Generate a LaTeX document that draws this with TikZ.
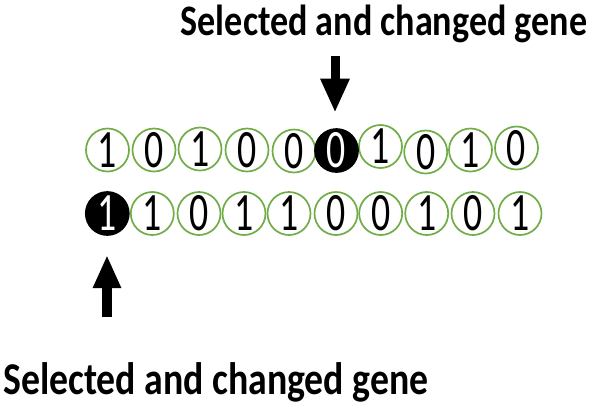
\documentclass[tikz,border=0pt]{standalone}
\usepackage{fontspec}
\setmainfont{Carlito}
\usetikzlibrary{arrows.meta}
\definecolor{genegreen}{RGB}{112,173,71}
\newcommand{\dg}[1]{\scalebox{0.7}[1]{#1}}
\begin{document}
\begin{tikzpicture}[x=1pt,y=-1pt,
  gene/.style={circle,draw=genegreen,line width=1.7pt,fill=white,minimum size=43pt,inner sep=0pt,
    font=\fontsize{54}{54}\selectfont},
  selgene/.style={gene,draw=black,fill=black,text=white},
  lbl/.style={inner sep=0pt,font=\fontsize{43.5}{44}\selectfont\bfseries},
  blockarrow/.style={line width=9pt,-{Triangle[width=27pt,length=34pt]}}]
\useasboundingbox (0,0) rectangle (597,408);
% top row
\foreach \i/\x/\y/\d in {0/107.5/150/1,1/154/150/0,2/200/149/1,3/247/150/0,4/294/151/0,6/380.5/146.5/1,7/425.7/152/0,8/470.5/150/1,9/516.5/148/0}
  \node[gene] (t\i) at (\x,\y) {\dg{\d}};
\node[selgene] (t5) at (336.5,150.5) {\dg{0}};
% bottom row
\foreach \i/\x/\d in {1/152.3/1,2/199/0,3/244/1,4/289/1,5/336/0,6/380.7/0,7/426.7/1,8/473/0,9/520/1}
  \node[gene] (b\i) at (\x,213.5) {\dg{\d}};
\node[selgene] (b0) at (107.3,213.5) {\dg{1}};
% labels
\node[lbl,anchor=base] (toplbl) at (384,35) {\scalebox{0.83}[1]{Selected and changed gene}};
\node[lbl,font=\fontsize{45.5}{46}\selectfont\bfseries,anchor=base west] (botlbl) at (3,394) {\scalebox{0.83}[1]{Selected and changed gene}};
% arrows
\coordinate (ta) at (335,56);
\coordinate (tb) at (335,112.7);
\coordinate (ba) at (107,317);
\coordinate (bb) at (107,255);
\draw[blockarrow] (ta) -- (tb);
\draw[blockarrow,-{Triangle[width=26pt,length=33pt]},line width=10pt] (ba) -- (bb);
\end{tikzpicture}
\end{document}
